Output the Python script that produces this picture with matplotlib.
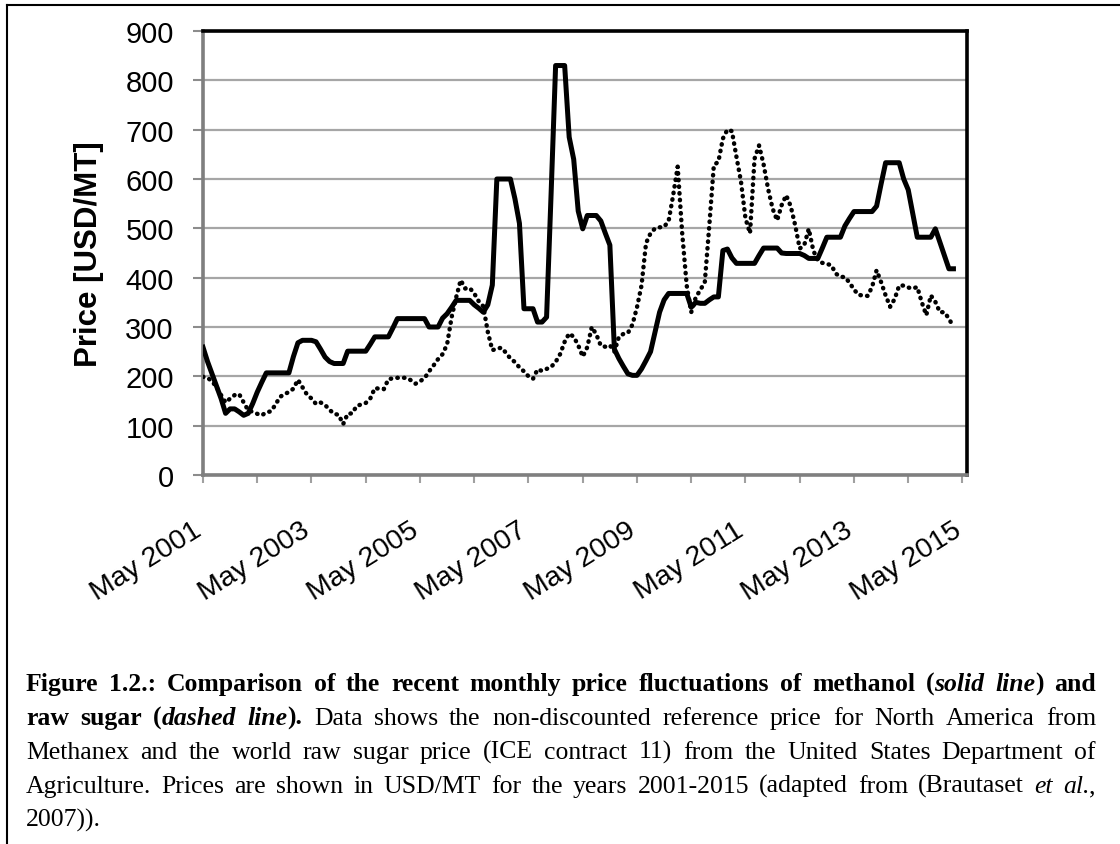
import matplotlib.pyplot as plt
from matplotlib.lines import Line2D
from matplotlib.transforms import IdentityTransform

plt.rcParams['font.family'] = 'Liberation Sans'

# monthly prices from May 2001, USD/MT
methanol = [
    259, 230, 205, 180, 155, 125, 134, 134, 128, 121,
    125, 145, 168, 188, 207, 207, 207, 207, 207, 207,
    240, 268, 273, 273, 273, 270, 255, 239, 230, 226,
    226, 226, 251, 251, 251, 251, 251, 265, 280, 280,
    280, 280, 298, 317, 317, 317, 317, 317, 317, 317,
    300, 300, 300, 318, 327, 340, 354, 354, 354, 354,
    345, 338, 330, 345, 385, 600, 600, 600, 600, 560,
    510, 337, 337, 337, 310, 310, 320, 570, 830, 830,
    830, 685, 640, 535, 499, 526, 526, 526, 515, 490,
    466, 255, 236, 220, 205, 202, 202, 215, 232, 250,
    290, 330, 355, 368, 368, 368, 368, 368, 340, 350,
    348, 348, 355, 361, 361, 455, 458, 440, 429, 429,
    429, 429, 429, 445, 460, 460, 460, 460, 450, 449,
    449, 449, 449, 445, 439, 439, 439, 460, 482, 482,
    482, 482, 505, 520, 534, 534, 534, 534, 534, 545,
    590, 633, 633, 633, 633, 600, 578, 530, 482, 482,
    482, 482, 499, 472, 445, 418, 418,
]

sugar = [
    199, 197, 190, 178, 162, 147, 155, 162, 164, 147,
    131, 128, 124, 121, 127, 129, 142, 158, 164, 168,
    175, 193, 178, 163, 155, 144, 147, 142, 132, 124,
    122, 103, 124, 125, 140, 143, 146, 155, 176, 175,
    174, 194, 196, 197, 197, 197, 192, 185, 190, 196,
    210, 222, 235, 245, 265, 320, 360, 395, 378, 379,
    368, 352, 342, 290, 253, 256, 258, 248, 236, 229,
    218, 210, 200, 195, 214, 211, 215, 219, 229, 245,
    270, 287, 280, 263, 240, 259, 300, 285, 262, 260,
    263, 250, 280, 286, 288, 305, 340, 384, 470, 490,
    500, 502, 503, 515, 567, 625, 490, 384, 330, 360,
    375, 391, 506, 628, 635, 682, 700, 697, 645, 595,
    520, 490, 641, 668, 630, 580, 540, 516, 547, 567,
    545, 506, 459, 466, 499, 455, 435, 430, 428, 425,
    408, 402, 401, 390, 376, 365, 364, 363, 381, 415,
    391, 364, 341, 357, 384, 384, 380, 378, 381, 350,
    324, 364, 351, 330, 330, 317, 300,
]

tick_labels = ["May 2001", "May 2003", "May 2005", "May 2007",
               "May 2009", "May 2011", "May 2013", "May 2015"]
y_ticks = [0, 100, 200, 300, 400, 500, 600, 700, 800, 900]

caption = [
    ([('b', 'Figure 1.2.: Comparison of the recent monthly price fluctuations of methanol ('),
      ('bi', 'solid line'), ('b', ') and')], True),
    ([('b', 'raw sugar ('), ('bi', 'dashed line'), ('b', ').'),
      ('r', ' Data shows the non-discounted reference price for North America from')], True),
    ([('r', 'Methanex and the world raw sugar price (ICE contract 11) from the United States Department of')], True),
    ([('r', 'Agriculture. Prices are shown in USD/MT for the years 2001-2015 (adapted from (Brautaset '),
      ('i', 'et al.'), ('r', ',')], True),
    ([('r', '2007)).')], False),
]

W, H = 1120, 845
fig = plt.figure(figsize=(W / 100, H / 100), dpi=100)
ax = fig.add_axes([203 / W, 1 - 476 / H, 764 / W, 444 / H])

ax.plot(range(len(methanol)), methanol, color='black', lw=3.6,
        solid_joinstyle='round', zorder=3)
ax.plot(range(len(sugar)), sugar, color='black', lw=3.2,
        dashes=(0.1, 1.4), dash_capstyle='round', zorder=3)

ax.set_xlim(0, 169)
ax.set_ylim(0, 900)
ax.set_yticks(y_ticks)
ax.yaxis.grid(True, color='#a6a6a6', lw=1.6)
ax.set_axisbelow(True)

ax.set_xticks(range(0, 24 * len(tick_labels), 24))
ax.set_xticklabels(tick_labels)
ax.set_xticks(range(12, 169, 24), minor=True)
for lab in ax.get_xticklabels():
    lab.set_rotation(32)
    lab.set_ha('right')
    lab.set_va('baseline')
    lab.set_rotation_mode('anchor')

ax.tick_params(axis='y', direction='out', length=7, width=1.5,
               color='#8c8c8c', pad=14, labelsize=21)
ax.tick_params(axis='x', which='both', direction='out', length=6, width=1.5,
               color='#a0a0a0', pad=36, labelsize=20.5)

for side in ['left', 'bottom']:
    ax.spines[side].set_color('#7f7f7f')
    ax.spines[side].set_linewidth(2.6)
for side in ['top', 'right']:
    ax.spines[side].set_color('black')
    ax.spines[side].set_linewidth(2.6)

ax.set_ylabel('Price [USD/MT]', fontsize=22.5, fontweight='bold')
ax.yaxis.set_label_coords(-0.13, 0.5)

# frame around the figure (top and left edges only)
fig.add_artist(Line2D([7 / W, 1], [1 - 6 / H] * 2, color='black', lw=1.5,
                      transform=fig.transFigure))
fig.add_artist(Line2D([7 / W] * 2, [0, 1 - 6 / H], color='black', lw=1.5,
                      transform=fig.transFigure))

# justified caption
styles = {'b': dict(weight='bold'), 'bi': dict(weight='bold', style='italic'),
          'r': {}, 'i': dict(style='italic')}
cap_size = 18.5
renderer = fig.canvas.get_renderer()
x_left, x_right = 26, 1096
baselines = [691, 725, 759, 793, 827]
for (runs, justify), yb in zip(caption, baselines):
    words = [[]]
    for style, text in runs:
        for k, part in enumerate(text.split(' ')):
            if k > 0:
                words.append([])
            if part:
                words[-1].append((style, part))
    words = [w for w in words if w]
    placed = []
    for w in words:
        items = []
        for style, part in w:
            t = fig.text(0, 0, part, transform=IdentityTransform(),
                         family='Liberation Serif', fontsize=cap_size,
                         va='baseline', ha='left', **styles[style])
            items.append((t, t.get_window_extent(renderer).width))
        placed.append(items)
    widths = [sum(wd for _, wd in items) for items in placed]
    if justify and len(words) > 1:
        gap = (x_right - x_left - sum(widths)) / (len(words) - 1)
    else:
        gap = cap_size * 1.389 * 0.25
    x = x_left
    for items, wsum in zip(placed, widths):
        xx = x
        for t, wd in items:
            t.set_position((xx, H - yb))
            xx += wd
        x += wsum + gap

fig.savefig('out.png', dpi=100)
